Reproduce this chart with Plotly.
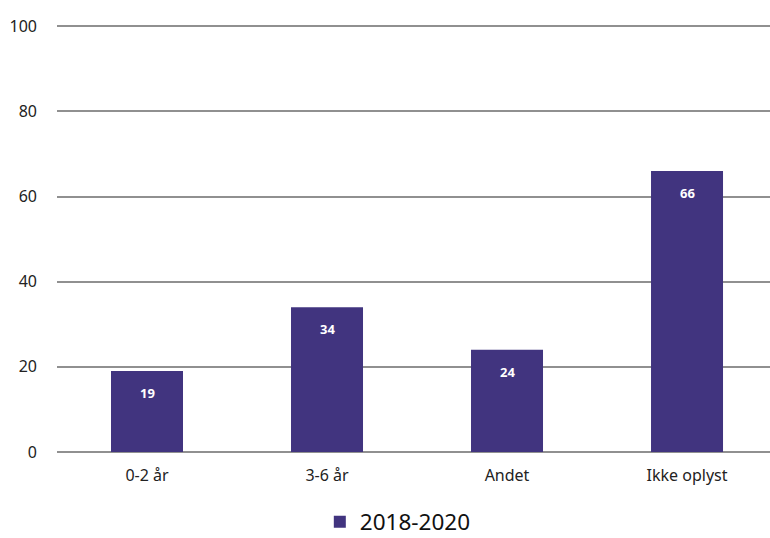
import plotly.graph_objects as go

categories = ["0-2 år", "3-6 år", "Andet", "Ikke oplyst"]
values = [19, 34, 24, 66]
series_name = "2018-2020"
y_ticks = [0, 20, 40, 60, 80, 100]

color = "#41347f"
font_family = "Noto Sans, Open Sans, sans-serif"

fig = go.Figure()
fig.add_trace(go.Bar(
    x=categories, y=values, name=series_name,
    marker=dict(color=color, line=dict(width=0)),
    width=0.4,
    hoverinfo="x+y",
))

for c, v in zip(categories, values):
    fig.add_annotation(x=c, y=v, text="<b>%d</b>" % v, showarrow=False,
                       yshift=-22, font=dict(color="white", size=13, family=font_family))

fig.update_layout(
    width=770, height=538,
    margin=dict(l=57, r=0, t=25, b=86, autoexpand=False),
    paper_bgcolor="white", plot_bgcolor="white",
    font=dict(family=font_family, size=16, color="#222"),
    showlegend=True,
    legend=dict(orientation="h", x=0.478, xanchor="center", y=-0.164, yanchor="middle",
                font=dict(size=22.5, color="#111"), itemwidth=30),
    bargap=0.6,
)
fig.update_xaxes(range=[-0.5, 3.461], showgrid=False, showline=False, ticks="",
                 tickfont=dict(size=16), ticklabelstandoff=12, automargin=False)
fig.update_yaxes(range=[0, 100.3], tickvals=y_ticks, showgrid=True, gridcolor="#909090",
                 gridwidth=2, zeroline=True, zerolinecolor="#909090", zerolinewidth=2,
                 showline=False, ticks="", tickfont=dict(size=16), ticklabelstandoff=19,
                 automargin=False)

fig.write_html(
    "out.html",
    config={"displayModeBar": False},
    post_script="document.body.style.margin='0px';document.body.style.overflow='hidden';",
)
